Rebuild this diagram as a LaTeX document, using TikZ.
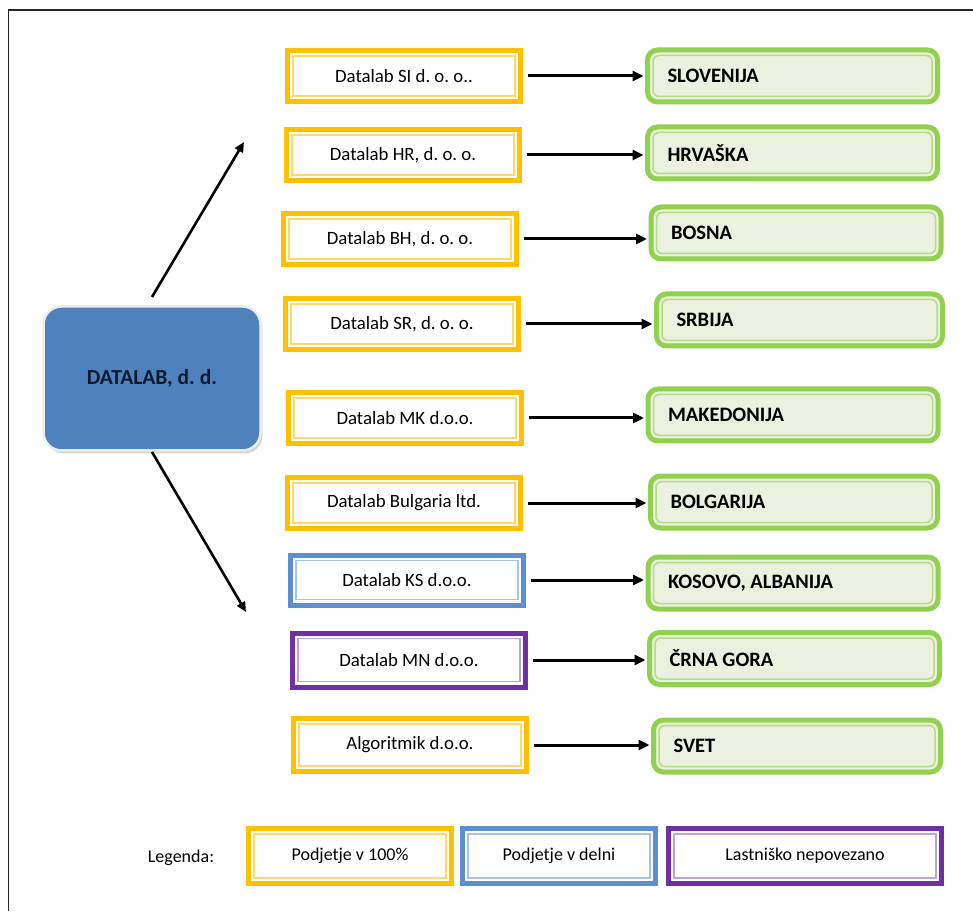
\documentclass[tikz,border=0pt]{standalone}
\usepackage{fontspec}
\setmainfont{Carlito}
\usetikzlibrary{arrows.meta,shadows}
\definecolor{ylw}{HTML}{FFC000}
\definecolor{ylwin}{HTML}{FFD966}
\definecolor{blu}{HTML}{5B8FD0}
\definecolor{bluin}{HTML}{A7C4E8}
\definecolor{pur}{HTML}{7030A0}
\definecolor{purin}{HTML}{C3A0E0}
\definecolor{grn}{HTML}{92D050}
\definecolor{grnin}{HTML}{B3DC85}
\definecolor{grnfill}{HTML}{EBF1DE}
\definecolor{mainblue}{HTML}{4F81BD}
\definecolor{maintext}{HTML}{0F1B2D}
\frenchspacing
\begin{document}
\begin{tikzpicture}[x=1pt,y=1pt,
  every node/.style={outer sep=0pt},
  cobox/.style={draw=#1, line width=5pt, fill=white, minimum width=233, minimum height=51, inner sep=0pt, font=\fontsize{18.8}{22}\selectfont},
  ctry/.style={draw=grn, line width=5pt, fill=grnfill, rounded corners=10pt, minimum width=290, minimum height=52, text width=250, align=flush left, inner xsep=20pt, inner ysep=0pt, font=\bfseries\fontsize{20.5}{24}\selectfont},
  link/.style={line width=3pt, -{Triangle[length=11pt,width=10pt]}, shorten <=7pt, shorten >=4pt},
  diag/.style={line width=2.6pt, -{Triangle[length=10pt,width=9pt]}},
  innerline/.style={draw=#1, line width=1.5pt},
  ginner/.style={draw=grnin, line width=1.5pt, rounded corners=6pt},
]
\useasboundingbox (0,0) rectangle (973,911);
% frame
\draw[line width=1.3pt, black!85] (8.5,0) -- (8.5,901) -- (973,901);

% main node
\node[draw=white!85!gray, line width=2.5pt, fill=mainblue, rounded corners=18pt,
  minimum width=217, minimum height=144,
  drop shadow={shadow xshift=2pt, shadow yshift=-3pt, opacity=0.35},
  font=\bfseries\fontsize{21.5}{25}\selectfont, text=maintext] (main) at (152,532.5) {DATALAB, d.\ d.};

% companies
\node[cobox=ylw] (si) at (404,835) {Datalab SI d.\ o.\ o..};
\node[cobox=ylw] (hr) at (403,756) {Datalab HR, d.\ o.\ o.};
\node[cobox=ylw] (bh) at (400,672) {Datalab BH, d.\ o.\ o.};
\node[cobox=ylw] (sr) at (402,587) {Datalab SR, d.\ o.\ o.};
\node[cobox=ylw] (mk) at (405,493) {Datalab MK d.o.o.};
\node[cobox=ylw] (bg) at (404,408) {Datalab Bulgaria ltd.};
\node[cobox=blu, minimum height=50] (ks) at (407,331) {Datalab KS d.o.o.};
\node[cobox=pur, minimum height=54] (mn) at (409,251) {Datalab MN d.o.o.};
\node[cobox=ylw, minimum height=53] (al) at (410,166) {Algoritmik d.o.o.};

% countries
\node[ctry] (slo) at (792.5,835) {SLOVENIJA};
\node[ctry] (hrv) at (792.5,758) {HRVAŠKA};
\node[ctry] (bos) at (796,678) {BOSNA};
\node[ctry, minimum width=286, text width=246] (srb) at (799.5,591) {SRBIJA};
\node[ctry] (mak) at (793,496) {MAKEDONIJA};
\node[ctry, minimum width=287, text width=247] (bol) at (794,409) {BOLGARIJA};
\node[ctry] (kos) at (793,328) {KOSOVO, ALBANIJA};
\node[ctry] (crn) at (794.5,252.5) {ČRNA GORA};
\node[ctry, minimum width=287, text width=247] (svt) at (797,165) {SVET};

% inner lines
\foreach \n/\c in {si/ylwin,hr/ylwin,bh/ylwin,sr/ylwin,mk/ylwin,bg/ylwin,ks/bluin,mn/purin,al/ylwin}
  \draw[innerline=\c] ([shift={(5.5,5.5)}]\n.south west) rectangle ([shift={(-5.5,-5.5)}]\n.north east);
\foreach \n in {slo,hrv,bos,srb,mak,bol,kos,crn,svt}
  \draw[ginner] ([shift={(5.5,5.5)}]\n.south west) rectangle ([shift={(-5.5,-5.5)}]\n.north east);

% links
\foreach \a/\b in {si/slo,hr/hrv,bh/bos,sr/srb,mk/mak,bg/bol,ks/kos,mn/crn,al/svt}
  \draw[link] (\a.east) -- (\a.east -| \b.west);

% diagonal arrows
\coordinate (uT) at (152,614);
\coordinate (uH) at (244,769);
\coordinate (dT) at (152,459);
\coordinate (dH) at (246,299);
\draw[diag] (uT) -- (uH);
\draw[diag] (dT) -- (dH);

% legend
\node[font=\fontsize{18}{21}\selectfont] (leg) at (181,53) {Legenda:};
\node[cobox=ylw, minimum width=203, minimum height=55, font=\fontsize{18}{21}\selectfont] (lg1) at (350,55) {Podjetje v 100\%};
\node[cobox=blu, minimum width=193, minimum height=55, font=\fontsize{18}{21}\selectfont] (lg2) at (559,55) {Podjetje v delni};
\node[cobox=pur, minimum width=273, minimum height=55, font=\fontsize{18}{21}\selectfont] (lg3) at (805,55) {Lastniško nepovezano};
\foreach \n/\c in {lg1/ylwin,lg2/bluin,lg3/purin}
  \draw[innerline=\c] ([shift={(5.5,5.5)}]\n.south west) rectangle ([shift={(-5.5,-5.5)}]\n.north east);
\end{tikzpicture}
\end{document}
